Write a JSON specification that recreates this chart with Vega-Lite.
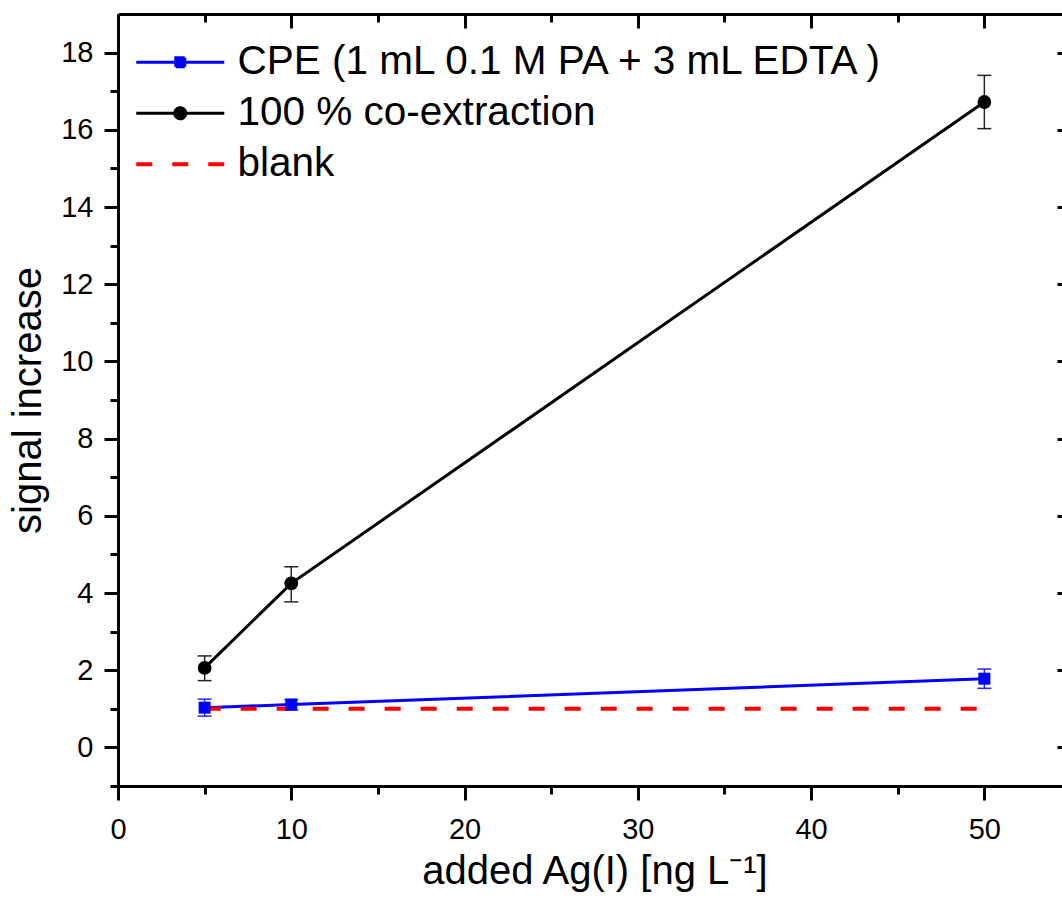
{
  "$schema": "https://vega.github.io/schema/vega-lite/v6.json",
  "width": 953,
  "height": 772,
  "autosize": {"type": "none"},
  "padding": {"left": 118, "top": 14, "right": -9, "bottom": 126},
  "background": "white",
  "datasets": {
    "meas": [
      {"series": "CPE (1 mL 0.1 M PA + 3 mL EDTA )", "ag": 5, "signal": 1.03, "lo": 0.81, "hi": 1.25},
      {"series": "CPE (1 mL 0.1 M PA + 3 mL EDTA )", "ag": 10, "signal": 1.11, "lo": 0.97, "hi": 1.24},
      {"series": "CPE (1 mL 0.1 M PA + 3 mL EDTA )", "ag": 50, "signal": 1.78, "lo": 1.53, "hi": 2.03},
      {"series": "100 % co-extraction", "ag": 5, "signal": 2.06, "lo": 1.73, "hi": 2.37},
      {"series": "100 % co-extraction", "ag": 10, "signal": 4.25, "lo": 3.77, "hi": 4.68},
      {"series": "100 % co-extraction", "ag": 50, "signal": 16.72, "lo": 16.03, "hi": 17.41}
    ],
    "blank": [
      {"series": "blank", "ag": 5, "signal": 1.0},
      {"series": "blank", "ag": 50, "signal": 1.0}
    ]
  },
  "config": {
    "view": {"stroke": null},
    "axis": {
      "grid": false,
      "labelFlush": false,
      "labelFont": "Liberation Sans",
      "labelFontSize": 29,
      "labelColor": "black",
      "titleFont": "Liberation Sans",
      "titleFontSize": 40,
      "titleFontWeight": "normal",
      "titleColor": "black",
      "tickColor": "black",
      "domainColor": "black",
      "tickWidth": 3,
      "domainWidth": 3
    },
    "legend": {
      "labelFont": "Liberation Sans"
    }
  },
  "resolve": {"axis": {"x": "independent", "y": "independent"}},
  "layer": [
    {
      "data": {"name": "meas"},
      "mark": {"type": "rule", "strokeWidth": 1.5, "opacity": 0.85},
      "encoding": {
        "x": {
          "field": "ag", "type": "quantitative",
          "scale": {"domain": [0, 55], "nice": false, "zero": false},
          "axis": {
            "orient": "bottom", "values": [0, 10, 20, 30, 40, 50], "tickSize": 14,
            "labelPadding": 15, "title": "added Ag(I) [ng L⁻¹]", "titlePadding": 7
          }
        },
        "y": {
          "field": "lo", "type": "quantitative",
          "scale": {"domain": [-1, 19], "nice": false, "zero": false},
          "axis": {
            "orient": "left", "values": [0, 2, 4, 6, 8, 10, 12, 14, 16, 18], "tickSize": 14,
            "labelPadding": 11, "title": "signal increase", "titlePadding": 12
          }
        },
        "y2": {"field": "hi"},
        "color": {
          "field": "series", "type": "nominal",
          "scale": {
            "domain": ["CPE (1 mL 0.1 M PA + 3 mL EDTA )", "100 % co-extraction", "blank"],
            "range": ["#0000ff", "#000000", "#ff0000"]
          },
          "legend": {
            "orient": "none",
            "legendX": -2,
            "legendY": 28,
            "title": null,
            "padding": 0,
            "labelFontSize": 40.5,
            "labelColor": "black",
            "labelLimit": 0,
            "labelOffset": 81,
            "rowPadding": 10,
            "symbolSize": 4,
            "symbolStrokeWidth": 3,
            "encoding": {
              "symbols": {
                "shape": {"value": {"expr": "datum.value === 'blank' ? 'M0,0H88' : datum.value === '100 % co-extraction' ? 'M0,0H88M38.5,0A5.5,5.5 0 1,1 49.5,0A5.5,5.5 0 1,1 38.5,0Z' : 'M0,0H88M39.5,-4.5H48.5V4.5H39.5Z'"}},
                "stroke": {"value": {"expr": "scale('color', datum.value)"}},
                "fill": {"value": {"expr": "scale('color', datum.value)"}},
                "fillOpacity": {"value": 1},
                "strokeOpacity": {"value": 1},
                "opacity": {"value": 1},
                "strokeWidth": {"value": {"expr": "datum.value === 'blank' ? 4 : 3"}},
                "strokeDash": {"value": {"expr": "datum.value === 'blank' ? [16, 20] : [1, 0]"}}
              }
            }
          }
        }
      }
    },
    {
      "data": {"name": "meas"},
      "mark": {"type": "line", "strokeWidth": 3},
      "encoding": {
        "x": {
          "field": "ag", "type": "quantitative",
          "axis": {"orient": "bottom", "values": [5, 15, 25, 35, 45], "tickSize": 8, "labels": false, "domain": false, "title": null}
        },
        "y": {
          "field": "signal", "type": "quantitative",
          "axis": {"orient": "left", "values": [-1, 1, 3, 5, 7, 9, 11, 13, 15, 17], "tickSize": 8, "labels": false, "domain": false, "title": null}
        },
        "color": {"field": "series", "type": "nominal"}
      }
    },
    {
      "data": {"name": "meas"},
      "mark": {"type": "tick", "orient": "horizontal", "thickness": 1.5, "size": 14, "opacity": 0.85},
      "encoding": {
        "x": {
          "field": "ag", "type": "quantitative",
          "axis": {"orient": "top", "values": [0, 10, 20, 30, 40, 50], "tickSize": -14, "labels": false, "title": null}
        },
        "y": {
          "field": "hi", "type": "quantitative",
          "axis": {"orient": "right", "values": [0, 2, 4, 6, 8, 10, 12, 14, 16, 18], "tickSize": -14, "labels": false, "title": null}
        },
        "color": {"field": "series", "type": "nominal"}
      }
    },
    {
      "data": {"name": "meas"},
      "mark": {"type": "tick", "orient": "horizontal", "thickness": 1.5, "size": 14, "opacity": 0.85},
      "encoding": {
        "x": {
          "field": "ag", "type": "quantitative",
          "axis": {"orient": "top", "values": [5, 15, 25, 35, 45], "tickSize": -8, "labels": false, "domain": false, "title": null}
        },
        "y": {
          "field": "lo", "type": "quantitative",
          "axis": {"orient": "right", "values": [-1, 1, 3, 5, 7, 9, 11, 13, 15, 17], "tickSize": -8, "labels": false, "domain": false, "title": null}
        },
        "color": {"field": "series", "type": "nominal"}
      }
    },
    {
      "data": {"name": "blank"},
      "mark": {"type": "line", "strokeWidth": 4, "strokeDash": [16, 20]},
      "encoding": {
        "x": {"field": "ag", "type": "quantitative", "axis": null},
        "y": {"field": "signal", "type": "quantitative", "axis": null},
        "color": {"field": "series", "type": "nominal"}
      }
    },
    {
      "data": {"name": "meas"},
      "mark": {"type": "point", "filled": true, "opacity": 1, "strokeWidth": 0},
      "encoding": {
        "x": {"field": "ag", "type": "quantitative", "axis": null},
        "y": {"field": "signal", "type": "quantitative", "axis": null},
        "color": {"field": "series", "type": "nominal"},
        "shape": {
          "field": "series", "type": "nominal",
          "scale": {"domain": ["CPE (1 mL 0.1 M PA + 3 mL EDTA )", "100 % co-extraction"], "range": ["square", "circle"]},
          "legend": null
        },
        "size": {
          "field": "series", "type": "nominal",
          "scale": {"domain": ["CPE (1 mL 0.1 M PA + 3 mL EDTA )", "100 % co-extraction"], "range": [144, 190]},
          "legend": null
        }
      }
    }
  ]
}
